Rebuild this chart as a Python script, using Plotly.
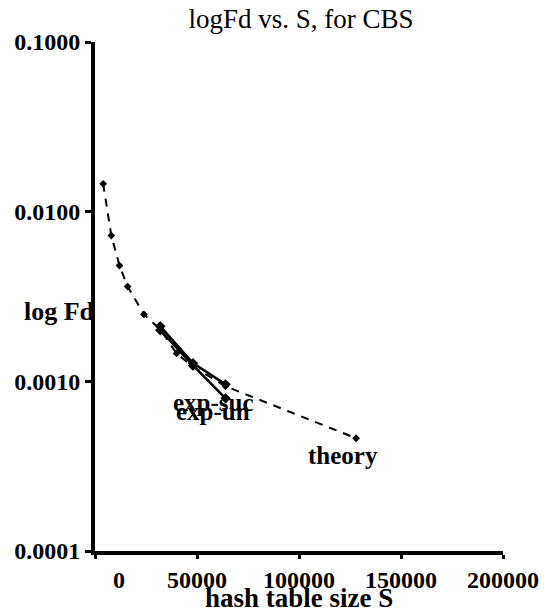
import plotly.graph_objects as go

# ---- data ----
theory_S = [4000, 8000, 12000, 16000, 24000, 32000, 40000, 48000, 64000, 128000]
theory_Fd = [0.0146, 0.00723, 0.00481, 0.00362, 0.00248, 0.00202, 0.00146, 0.00122, 0.000935, 0.000462]

exp_suc_S = [32000, 48000, 64000]
exp_suc_Fd = [0.00211, 0.00128, 0.000960]

exp_un_S = [32000, 48000, 64000]
exp_un_Fd = [0.00200, 0.00124, 0.000794]

x_ticks = [0, 50000, 100000, 150000, 200000]
x_ticktext = ["\u00a0" * 8 + "0", "50000", "100000", "150000", "200000"]
y_ticks = [0.0001, 0.001, 0.01, 0.1]
y_ticktext = ["0.0001", "0.0010", "0.0100", "0.1000"]

FONT = "Liberation Serif"
W, H = 545, 612

fig = go.Figure()
fig.add_trace(go.Scatter(
    x=theory_S, y=theory_Fd, mode="lines+markers", name="theory",
    line=dict(color="black", width=2, dash="8px,7px"),
    marker=dict(symbol="diamond", size=6, color="black"),
))
fig.add_trace(go.Scatter(
    x=exp_suc_S, y=exp_suc_Fd, mode="lines+markers", name="exp-suc",
    line=dict(color="black", width=2.5),
    marker=dict(symbol="diamond", size=8, color="black"),
))
fig.add_trace(go.Scatter(
    x=exp_un_S, y=exp_un_Fd, mode="lines+markers", name="exp-un",
    line=dict(color="black", width=2.5),
    marker=dict(symbol="diamond", size=8, color="black"),
))

lab_font = dict(family=FONT, size=25, color="black", weight="bold")
fig.add_annotation(x=58300, y=-3.125, xref="x", yref="y", text="exp-suc",
                   showarrow=False, font=lab_font, xanchor="center", yanchor="middle")
fig.add_annotation(x=57800, y=-3.18, xref="x", yref="y", text="exp-un",
                   showarrow=False, font=lab_font, xanchor="center", yanchor="middle")
fig.add_annotation(x=121500, y=-3.44, xref="x", yref="y", text="theory",
                   showarrow=False, font=lab_font, xanchor="center", yanchor="middle")

# axis titles
fig.add_annotation(x=0.005, y=0.47, xref="paper", yref="paper", text="log Fd",
                   showarrow=False, xanchor="right", yanchor="middle",
                   font=dict(family=FONT, size=26, color="black", weight="bold"))
fig.add_annotation(x=0.5, y=-0.092, xref="paper", yref="paper", text="hash table size S",
                   showarrow=False, xanchor="center", yanchor="middle",
                   font=dict(family=FONT, size=27, color="black", weight="bold"))

fig.update_layout(
    width=W, height=H,
    margin=dict(l=95, r=42, t=42, b=61, autoexpand=False),
    paper_bgcolor="white", plot_bgcolor="white",
    showlegend=False,
    title=dict(text="logFd vs. S, for CBS", x=301 / W, xanchor="center",
               y=1 - 19 / H, yanchor="middle", yref="container",
               font=dict(family=FONT, size=27, color="black")),
)
fig.update_xaxes(
    range=[0, 200000], tickvals=x_ticks, ticktext=x_ticktext, automargin=False,
    showgrid=False, zeroline=False, showline=True, linecolor="black", linewidth=4,
    ticks="outside", ticklen=4, tickwidth=3, tickcolor="black",
    tickfont=dict(family=FONT, size=24, color="black", weight="bold"),
)
fig.update_yaxes(
    type="log", range=[-4, -1], tickvals=y_ticks, ticktext=y_ticktext, automargin=False,
    showgrid=False, zeroline=False, showline=True, linecolor="black", linewidth=4,
    ticks="outside", ticklen=6, tickwidth=3, tickcolor="black",
    tickfont=dict(family=FONT, size=24, color="black", weight="bold"),
)

# remove the default 8px page margin so the figure fills the window exactly
fig.write_html("out.html", config={"displayModeBar": False},
               post_script="document.body.style.margin='0';")
